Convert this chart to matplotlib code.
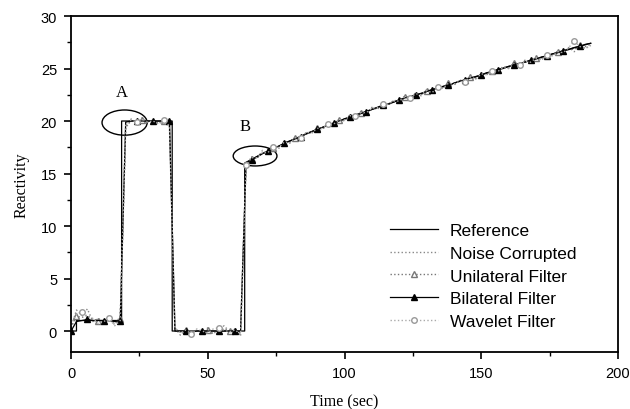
import numpy as np
import matplotlib
matplotlib.use("Agg")
import matplotlib.pyplot as plt
from matplotlib.patches import Ellipse
from matplotlib.ticker import MultipleLocator

# reference signal, given by its break points
ref_t = [0, 2, 2, 18.5, 18.5, 37, 37, 63.5, 63.5, 70, 80, 90, 100, 110,
         120, 130, 140, 150, 160, 170, 180, 190]
ref_y = [0, 0, 1, 1, 20, 20, 0, 0, 16.0, 16.9, 18.1, 19.2, 20.2, 21.1,
         22.0, 22.8, 23.6, 24.4, 25.2, 25.9, 26.7, 27.4]

# sampled series, one value every 2 sec from 0 to 190
t = np.arange(0, 192, 2)

noisy = [0.3, 2.0, 1.5, 2.1, 0.9, 1.2, 0.8, 1.1, 0.6, 1.4,
         19.3, 20.2, 19.8, 20.3, 19.9, 20.1, 19.7, 20.2, 19.4, 0.3,
         -0.4, 0.2, -0.3, 0.1, -0.2, 0.3, -0.3, 0.2, 0.5, -0.1,
         0.2, -0.5, 15.7, 16.6, 16.4, 17.2, 16.9, 17.6, 17.4, 18.1,
         17.9, 18.5, 18.3, 18.9, 18.8, 19.4, 19.2, 19.8, 19.6, 20.2,
         20.0, 20.6, 20.4, 20.9, 20.7, 21.3, 21.1, 21.7, 21.5, 22.0,
         21.8, 22.4, 22.1, 22.7, 22.4, 23.0, 22.8, 23.3, 23.1, 23.7,
         23.4, 23.9, 23.8, 24.3, 24.0, 24.6, 24.4, 24.9, 24.7, 25.2,
         25.0, 25.6, 25.3, 25.8, 25.6, 26.1, 25.8, 26.4, 26.2, 26.7,
         26.5, 27.0, 26.6, 27.3, 26.9, 27.2]

unilateral = [0.3, 1.4, 1.3, 1.5, 1.1, 1.0, 0.9, 1.0, 0.8, 1.1,
              19.5, 20.0, 19.9, 20.1, 20.0, 20.0, 19.8, 20.0, 19.6, 0.2,
              -0.1, 0.1, -0.1, 0.0, -0.1, 0.1, -0.1, 0.1, 0.2, 0.0,
              0.1, -0.2, 15.9, 16.4, 16.5, 16.9, 17.1, 17.4, 17.6, 17.9,
              18.0, 18.4, 18.5, 18.8, 18.9, 19.3, 19.3, 19.7, 19.7, 20.1,
              20.1, 20.5, 20.5, 20.8, 20.8, 21.2, 21.2, 21.6, 21.6, 21.9,
              21.9, 22.3, 22.2, 22.6, 22.5, 22.9, 22.9, 23.2, 23.2, 23.6,
              23.5, 23.8, 23.9, 24.2, 24.1, 24.5, 24.5, 24.8, 24.8, 25.1,
              25.1, 25.5, 25.4, 25.7, 25.7, 26.0, 25.9, 26.3, 26.3, 26.6,
              26.6, 26.9, 26.8, 27.2, 27.1, 27.3]

bilateral = [0.0, 0.9, 1.0, 1.1, 1.0, 1.0, 1.0, 1.0, 0.9, 1.0,
             19.9, 20.0, 20.0, 20.0, 20.0, 20.0, 20.0, 20.0, 20.0, 0.0,
             0.0, 0.0, -0.1, 0.0, 0.0, 0.0, 0.0, 0.0, 0.0, 0.0,
             0.0, 0.0, 16.0, 16.3, 16.6, 16.9, 17.1, 17.4, 17.6, 17.9,
             18.1, 18.3, 18.5, 18.8, 19.0, 19.2, 19.4, 19.6, 19.8, 20.0,
             20.2, 20.4, 20.6, 20.7, 20.9, 21.1, 21.3, 21.5, 21.6, 21.8,
             22.0, 22.2, 22.3, 22.5, 22.6, 22.8, 23.0, 23.1, 23.3, 23.4,
             23.6, 23.8, 23.9, 24.1, 24.2, 24.4, 24.6, 24.7, 24.9, 25.0,
             25.2, 25.3, 25.5, 25.6, 25.8, 25.9, 26.1, 26.2, 26.4, 26.5,
             26.7, 26.8, 27.0, 27.1, 27.3, 27.4]

wavelet = [0.6, 1.6, 1.8, 1.4, 1.2, 0.7, 0.9, 1.2, 0.5, 1.0,
           19.6, 20.1, 19.9, 20.2, 19.9, 20.0, 19.7, 20.1, 19.5, 0.3,
           -0.2, 0.1, -0.3, 0.2, 0.0, -0.2, 0.2, 0.3, 0.1, -0.1,
           0.1, -0.3, 15.8, 16.5, 16.5, 17.0, 17.0, 17.5, 17.5, 18.0,
           17.9, 18.4, 18.4, 18.9, 18.9, 19.3, 19.3, 19.7, 19.7, 20.1,
           20.1, 20.5, 20.5, 20.8, 20.8, 21.2, 21.3, 21.6, 21.6, 21.9,
           21.9, 22.3, 22.2, 22.6, 22.5, 22.9, 22.7, 23.2, 23.1, 23.6,
           23.5, 23.8, 23.7, 24.2, 24.0, 24.5, 24.4, 24.8, 24.7, 25.1,
           25.0, 25.5, 25.3, 25.7, 25.6, 26.0, 25.8, 26.3, 26.2, 26.6,
           26.5, 27.0, 27.6, 27.1, 26.9, 27.2]

plt.rcParams['font.family'] = ['Liberation Sans', 'DejaVu Sans']

fig = plt.figure(figsize=(6.3, 4.1), dpi=100)
ax = fig.add_axes([0.1127, 0.139, 0.8683, 0.8195])

ax.plot(ref_t, ref_y, color='black', lw=0.9, label='Reference')
ax.plot(t, noisy, color='#888888', lw=1.0, ls=':', label='Noise Corrupted')
ax.plot(t, unilateral, color='#777777', lw=1.0, ls=':', marker='^',
        mfc='white', mec='#777777', ms=4, markevery=(1, 4), label='Unilateral Filter')
ax.plot(t, bilateral, color='black', lw=0.9, marker='^', ms=4.5,
        markevery=(0, 3), label='Bilateral Filter')
ax.plot(t, wavelet, color='#aaaaaa', lw=1.0, ls=':', marker='o',
        mfc='white', mec='#999999', ms=4, markevery=(2, 5), label='Wavelet Filter')

# circled regions
ax.add_patch(Ellipse((19.6, 19.85), 16.5, 2.4, fill=False, color='black', lw=1.0))
ax.add_patch(Ellipse((67.3, 16.67), 16.0, 1.9, fill=False, color='black', lw=1.0))
ax.text(18.6, 22.8, 'A', family='Liberation Serif', fontsize=12, ha='center', va='center')
ax.text(63.6, 19.5, 'B', family='Liberation Serif', fontsize=12, ha='center', va='center')

ax.set_xlim(0, 200)
ax.set_ylim(-2, 30)
ax.xaxis.set_major_locator(MultipleLocator(50))
ax.xaxis.set_minor_locator(MultipleLocator(25))
ax.yaxis.set_major_locator(MultipleLocator(5))
ax.yaxis.set_minor_locator(MultipleLocator(2.5))
ax.tick_params(which='major', direction='out', length=5, width=1.2, labelsize=10.5, pad=5)
ax.tick_params(which='minor', direction='out', length=3, width=1.0)
for s in ax.spines.values():
    s.set_linewidth(1.3)

ax.set_xlabel('Time (sec)', family='Liberation Serif', fontsize=11.5, labelpad=10)
ax.set_ylabel('Reactivity', family='Liberation Serif', fontsize=11.5, labelpad=8)

ax.legend(loc='upper left', bbox_to_anchor=(0.555, 0.43), frameon=False,
          fontsize=12.5, handlelength=2.75, labelspacing=0.43, handletextpad=0.7)

fig.savefig('out.png', dpi=100)
